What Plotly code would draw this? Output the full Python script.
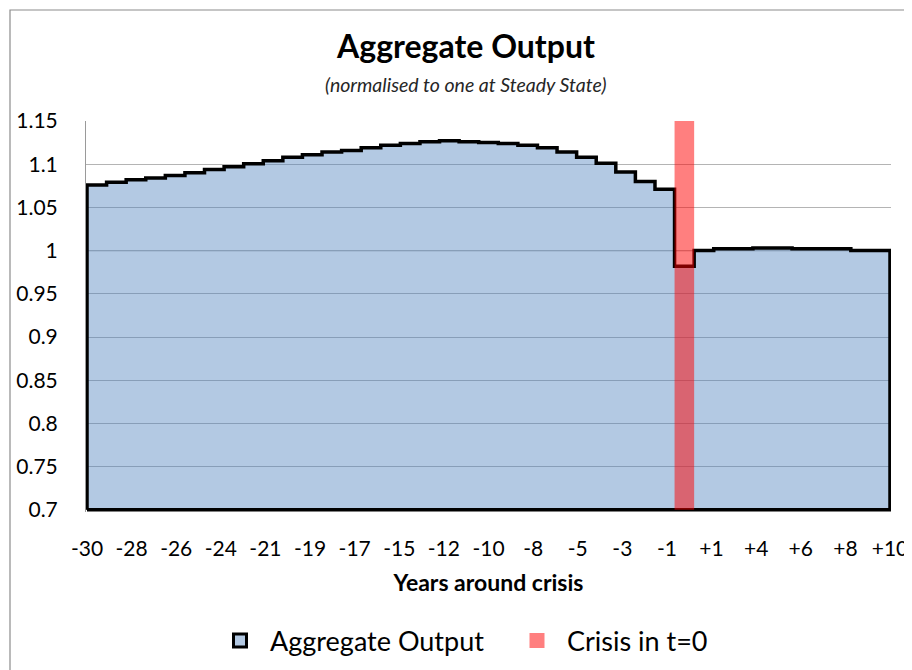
import plotly.graph_objects as go

# ---------------- data ----------------
years = list(range(-30, 11))
output = [1.076, 1.079, 1.082, 1.084, 1.087, 1.090, 1.094, 1.097, 1.1005, 1.104,
          1.108, 1.111, 1.114, 1.116, 1.119, 1.122, 1.124, 1.126, 1.127, 1.126,
          1.125, 1.124, 1.122, 1.119, 1.114, 1.108, 1.101, 1.091, 1.080, 1.071,
          0.982, 1.000, 1.002, 1.002, 1.003, 1.003, 1.002, 1.002, 1.002, 1.000, 1.000]
crisis_year = 0
y_ticks = [0.7, 0.75, 0.8, 0.85, 0.9, 0.95, 1.0, 1.05, 1.1, 1.15]
y_tick_labels = ["0.7", "0.75", "0.8", "0.85", "0.9", "0.95", "1", "1.05", "1.1", "1.15"]
x_tick_labels = ["-30", "-28", "-26", "-24", "-21", "-19", "-17", "-15", "-12", "-10",
                 "-8", "-5", "-3", "-1", "+1", "+4", "+6", "+8", "+10"]

# ---------------- layout geometry ----------------
OFF = 8                      # page body margin
W, H = 912 - OFF, 670 - OFF
ML, MR, MT, MB = 86 - OFF, 21, 121 - OFF, 158
PW, PH = W - ML - MR, H - MT - MB
FONT = "Lato"

ymin, ymax = y_ticks[0], y_ticks[-1]
x_lo, x_hi = years[0], years[-1] + 1
xpad = (x_hi - x_lo) / (PW - 2)
x_range = [x_lo - xpad, x_hi + xpad]
ypx = 864.0
y_range = [ymax - PH / ypx, ymax]

def px_x(p):   # page pixel -> paper x
    return (p - OFF - ML) / PW

def px_y(p):   # page pixel -> paper y
    return (H - MB - (p - OFF)) / PH

# tick label positions: equally spaced across the category span
n = len(x_tick_labels)
tick_pos = [x_lo + k * (x_hi - x_lo) / (n - 1) for k in range(n)]

# ---------------- traces ----------------
area_x = [years[0]] + years + [x_hi, x_hi, years[0]]
area_y = [ymin] + output + [output[-1], ymin, ymin]

blue_fill = "rgba(79,129,189,0.43)"
red_fill = "rgba(255,0,0,0.5)"

fig = go.Figure()
fig.add_trace(go.Scatter(
    x=area_x, y=area_y, mode="lines", line=dict(shape="hv", color="black", width=3.5),
    fill="toself", fillcolor=blue_fill, showlegend=False, hoverinfo="skip"))
fig.add_trace(go.Scatter(
    x=[crisis_year, crisis_year, crisis_year + 1, crisis_year + 1, crisis_year],
    y=[ymin, ymax, ymax, ymin, ymin], mode="lines", line=dict(width=0, color=red_fill),
    fill="toself", fillcolor=red_fill, showlegend=False, hoverinfo="skip"))
# legend entries
fig.add_trace(go.Scatter(
    x=[None], y=[None], mode="markers", name="Aggregate Output",
    marker=dict(symbol="square", size=13, color=blue_fill, line=dict(color="black", width=3))))
fig.add_trace(go.Scatter(
    x=[None], y=[None], mode="markers", name="Crisis in t=0",
    marker=dict(symbol="square", size=15, color=red_fill, line=dict(width=0))))

fig.update_layout(
    width=W, height=H,
    margin=dict(l=ML, r=MR, t=MT, b=MB, autoexpand=False),
    paper_bgcolor="white", plot_bgcolor="white",
    font=dict(family=FONT, color="black", size=21),
    title=dict(text="<b>Aggregate Output</b>", font=dict(family=FONT, size=32, color="black"),
               x=(466 - OFF) / W, xanchor="center", xref="container",
               y=1 - (47 - OFF) / H, yanchor="middle", yref="container"),
    xaxis=dict(range=x_range, tickvals=tick_pos, ticktext=x_tick_labels,
               showgrid=False, zeroline=False, showline=False, ticks="",
               tickfont=dict(family=FONT, size=21), ticklabelstandoff=22,
               title=dict(text="<b>Years around crisis</b>", font=dict(family=FONT, size=23),
                          standoff=15)),
    yaxis=dict(range=y_range, tickvals=y_ticks, ticktext=y_tick_labels,
               showgrid=True, gridcolor="#b4b4b4", gridwidth=1, zeroline=False,
               showline=True, linecolor="#9a9a9a", linewidth=1, ticks="",
               tickfont=dict(family=FONT, size=21), ticklabelstandoff=23),
    legend=dict(orientation="h", x=px_x(507), xanchor="center", y=px_y(641), yanchor="middle",
                font=dict(family=FONT, size=27), itemwidth=50, entrywidth=232,
                bgcolor="rgba(0,0,0,0)"),
    shapes=[
        dict(type="line", xref="x domain", x0=0, x1=1, yref="y", y0=1, y1=1,
             line=dict(color="black", width=1), layer="below"),
        dict(type="rect", xref="paper", yref="paper",
             x0=px_x(10), x1=px_x(940), y0=px_y(10), y1=px_y(720),
             line=dict(color="#8c8c8c", width=1.2), fillcolor="rgba(0,0,0,0)", layer="above"),
    ],
    annotations=[
        dict(text="<i>(normalised to one at Steady State)</i>", xref="paper", yref="paper",
             x=px_x(465), y=px_y(84), xanchor="center", yanchor="middle", showarrow=False,
             font=dict(family=FONT, size=19.5, color="#262626")),
    ],
)

fig.write_html("out.html")
